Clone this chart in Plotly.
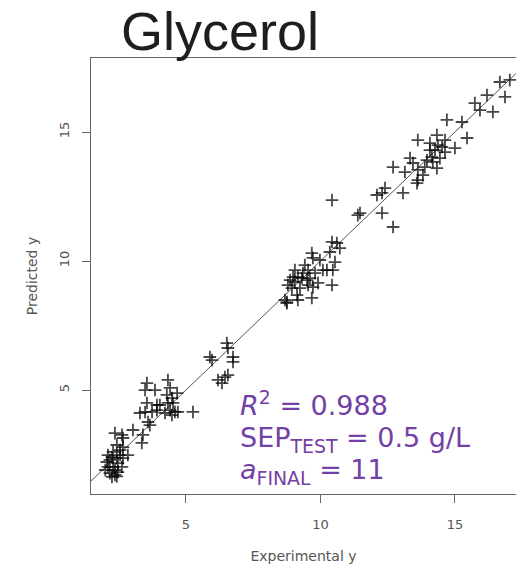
import plotly.graph_objects as go

# Experimental (x) vs predicted (y) glycerol values
exp_y = [
    2.17, 2.36, 2.47, 2.10, 2.29, 2.62, 2.17, 2.43, 2.66, 2.84, 2.10, 2.29, 2.55, 2.66, 2.43,
    2.25, 2.47, 2.36, 2.55, 2.06, 2.36, 2.62, 2.66, 3.03, 3.36, 3.40, 2.25, 2.43, 2.00,
    3.29, 3.48, 3.74, 3.92, 3.59, 3.66, 3.55, 3.92, 3.48, 3.55, 3.85, 4.03, 4.33, 4.41,
    4.29, 4.48, 4.33, 4.52, 4.41, 4.59, 4.70, 4.22, 4.48, 4.67, 5.26, 6.19, 6.34, 6.45,
    5.89, 5.97, 6.52, 6.56, 6.75, 6.75, 6.56, 8.68, 8.75,
    10.43, 12.10, 12.29, 11.39, 10.43, 10.61, 10.72, 10.35, 10.54, 10.46, 10.24, 10.09, 10.43,
    9.68, 9.72, 9.42, 9.54, 9.35, 9.16, 8.98, 8.87, 9.05, 9.31, 9.61, 9.54, 9.72, 8.94, 8.79,
    9.24, 9.13, 9.16, 8.75, 9.68, 9.91, 9.80, 9.50, 9.05, 9.98,
    16.67, 17.04, 16.86, 16.19, 15.74, 15.93, 16.41, 14.70, 15.26, 15.45, 13.62, 14.07, 14.33,
    14.52, 14.26, 14.63, 15.00, 14.14, 14.44, 13.96, 14.33, 13.33, 13.44, 12.70, 13.14, 13.62,
    13.88, 13.81, 13.62, 13.59, 12.40, 13.07, 12.29, 11.47, 12.70, 14.07, 14.37, 14.18, 14.63,
]
pred_y = [
    1.78, 1.71, 1.82, 2.02, 2.02, 2.02, 2.29, 2.36, 2.36, 2.48, 2.48, 2.60, 2.67, 2.79, 2.87,
    2.40, 2.17, 1.90, 2.48, 2.21, 3.33, 3.26, 3.14, 3.45, 2.95, 3.26, 1.63, 1.65, 1.90,
    4.11, 4.15, 4.15, 4.22, 3.76, 3.64, 4.50, 4.42, 5.00, 5.27, 5.00, 4.42, 5.39, 5.08,
    4.81, 4.69, 4.50, 4.50, 4.22, 4.15, 4.15, 4.11, 4.03, 4.88, 4.15, 5.39, 5.27, 5.50,
    6.28, 6.16, 6.82, 6.63, 6.28, 6.09, 5.58, 8.49, 8.37,
    12.36, 12.56, 12.64, 11.78, 10.74, 10.70, 10.50, 10.35, 9.96, 9.65, 9.65, 9.65, 9.07,
    10.31, 10.12, 9.84, 9.65, 9.53, 9.38, 9.38, 9.26, 9.19, 9.34, 9.34, 9.07, 8.99, 8.95, 9.07,
    8.95, 8.68, 8.49, 8.41, 8.57, 9.15, 9.53, 9.26, 9.65, 10.04,
    16.94, 17.02, 16.36, 16.43, 16.12, 15.85, 15.78, 15.47, 15.39, 14.77, 14.69, 14.57, 14.88,
    14.42, 14.30, 14.22, 14.38, 14.03, 13.99, 13.91, 13.60, 13.99, 13.80, 13.64, 13.45, 13.53,
    13.64, 13.33, 13.14, 13.02, 12.83, 12.64, 11.86, 11.86, 11.32, 14.30, 14.49, 13.84, 14.69,
]
identity = [0, 20]
x_ticks = [5, 10, 15]
y_ticks = [5, 10, 15]
x_range = [1.47, 17.27]
y_range = [0.97, 17.87]

fig = go.Figure()
fig.add_trace(go.Scatter(
    x=identity, y=identity, mode="lines",
    line=dict(color="#555555", width=1), hoverinfo="skip", showlegend=False,
))
fig.add_trace(go.Scatter(
    x=exp_y, y=pred_y, mode="markers",
    marker=dict(symbol="cross-thin-open", size=9, color="rgba(0,0,0,0.72)",
                line=dict(color="rgba(0,0,0,0.72)", width=1.8)),
    showlegend=False,
))

axis_font = dict(family="DejaVu Sans", size=13, color="#555555")
fig.update_xaxes(
    range=x_range, tickvals=x_ticks, ticks="outside", ticklen=8, tickcolor="#666666",
    showline=True, mirror=True, linecolor="#666666", linewidth=1,
    showgrid=False, zeroline=False, tickfont=axis_font, ticklabelstandoff=10,
    title=dict(text="Experimental y", font=dict(family="DejaVu Sans", size=14, color="#555555"),
               standoff=21),
)
fig.update_yaxes(
    range=y_range, tickvals=y_ticks, ticks="outside", ticklen=8, tickcolor="#666666",
    showline=True, mirror=False, linecolor="#666666", linewidth=1,
    showgrid=False, zeroline=False, tickfont=axis_font, tickangle=-90, ticklabelstandoff=8,
    title=dict(text="Predicted y", font=dict(family="DejaVu Sans", size=14, color="#555555"),
               standoff=15),
)

purple = "#7340A5"
ann_font = dict(family="DejaVu Sans", size=27, color=purple)
fig.add_annotation(text="<i>R</i><sup>2</sup> = 0.988", xref="paper", yref="paper",
                   x=0.346, y=0.208, xanchor="left", yanchor="middle", showarrow=False, font=ann_font)
fig.add_annotation(text="SEP<sub>TEST</sub> = 0.5 g/L", xref="paper", yref="paper",
                   x=0.346, y=0.126, xanchor="left", yanchor="middle", showarrow=False, font=ann_font)
fig.add_annotation(text="<i>a</i><sub>FINAL</sub> = 11", xref="paper", yref="paper",
                   x=0.346, y=0.052, xanchor="left", yanchor="middle", showarrow=False, font=ann_font)
fig.add_annotation(text="Glycerol", xref="paper", yref="paper",
                   x=0.066, y=1.062, xanchor="left", yanchor="middle", showarrow=False,
                   font=dict(family="Liberation Sans", size=54, color="#1e1e1e"))

fig.update_layout(
    width=516, height=564,
    margin=dict(l=91, r=0, t=58, b=70),
    plot_bgcolor="white", paper_bgcolor="white",
)
fig.write_html("out.html")
